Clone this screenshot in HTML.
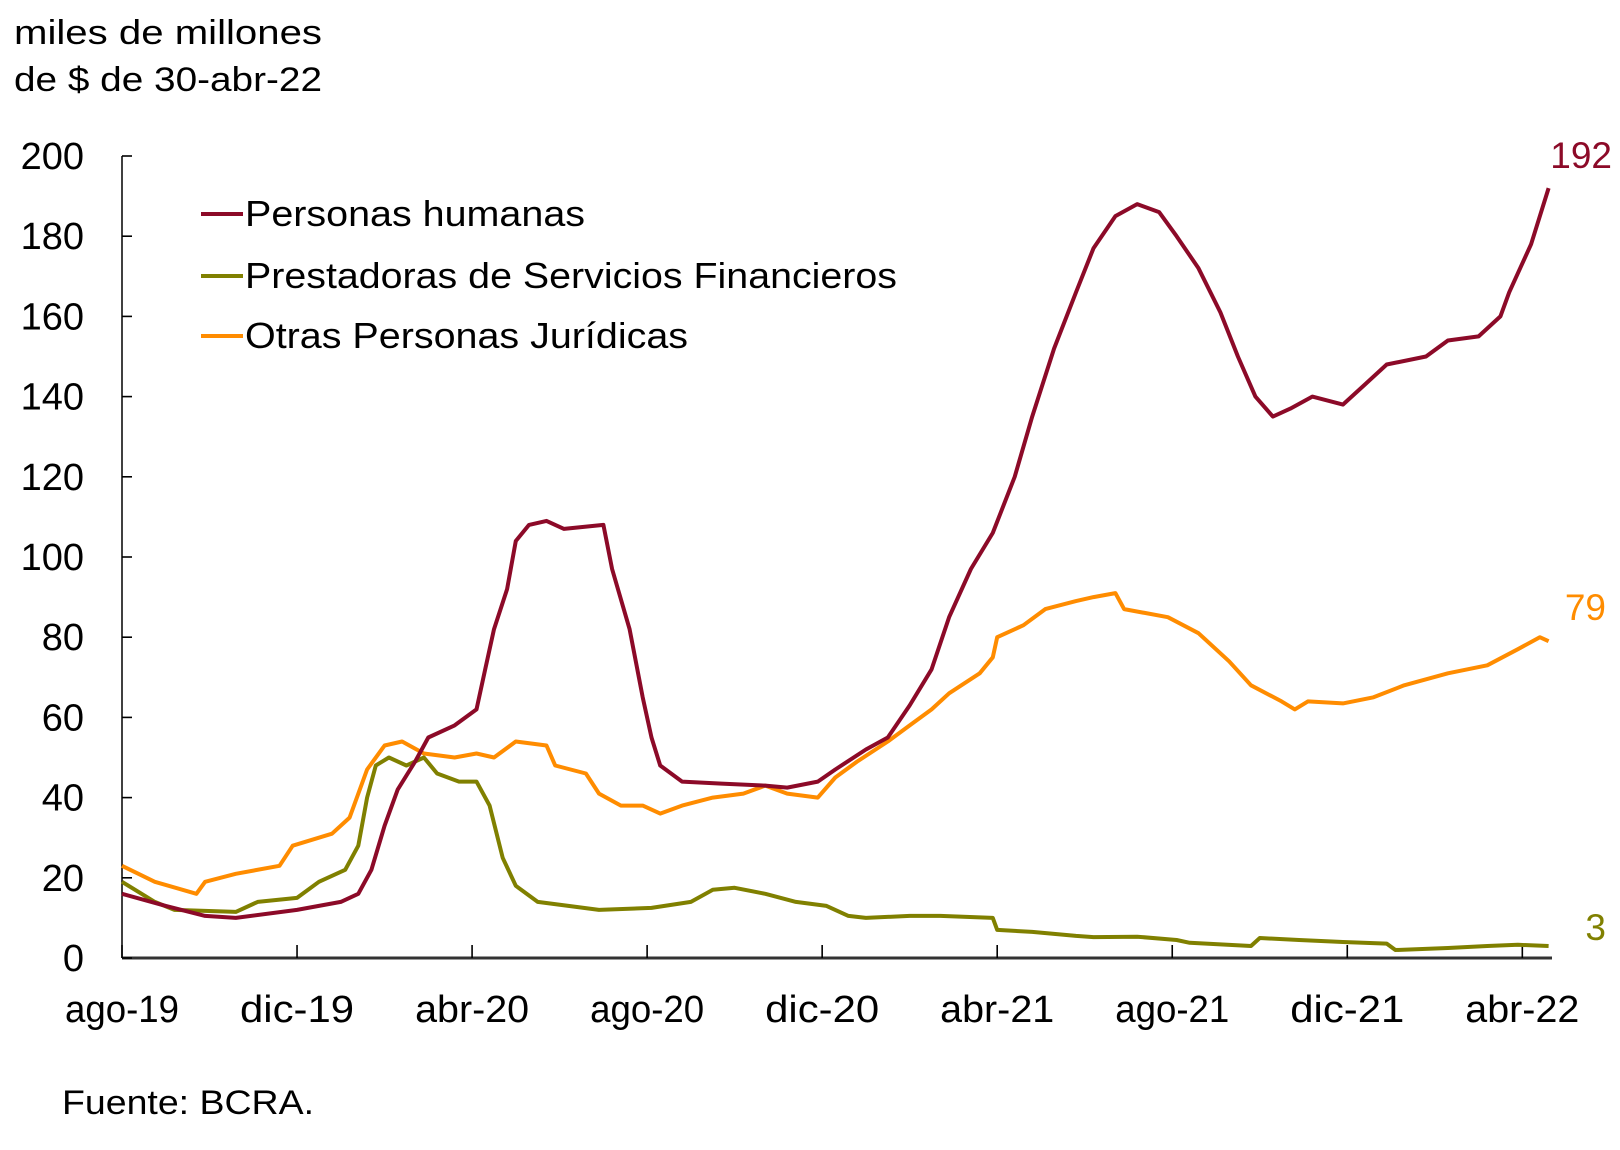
<!DOCTYPE html>
<html><head><meta charset="utf-8"><style>
html,body{margin:0;padding:0;background:#fff;}
svg{display:block;font-family:"Liberation Sans",sans-serif;}
</style></head><body>
<svg id="chart" width="1620" height="1150" viewBox="0 0 1620 1150" xmlns="http://www.w3.org/2000/svg">
<text x="14" y="44" font-size="34" textLength="308" lengthAdjust="spacingAndGlyphs">miles de millones</text>
<text x="14" y="91" font-size="34" textLength="308" lengthAdjust="spacingAndGlyphs">de $ de 30-abr-22</text>
<g id="axes"></g>
<g id="series"></g>
<g>
<line x1="201" y1="214" x2="243" y2="214" stroke="#8c0a28" stroke-width="4"/>
<text x="245" y="226" font-size="36" textLength="340" lengthAdjust="spacingAndGlyphs">Personas humanas</text>
<line x1="201" y1="276" x2="243" y2="276" stroke="#808000" stroke-width="4"/>
<text x="245" y="288" font-size="36" textLength="652" lengthAdjust="spacingAndGlyphs">Prestadoras de Servicios Financieros</text>
<line x1="201" y1="336" x2="243" y2="336" stroke="#ff8c00" stroke-width="4"/>
<text x="245" y="348" font-size="36" textLength="443" lengthAdjust="spacingAndGlyphs">Otras Personas Jurídicas</text>
</g>
<text x="1612" y="168" font-size="37" text-anchor="end" fill="#8c0a28">192</text>
<text x="1606" y="620" font-size="37" text-anchor="end" fill="#ff8c00">79</text>
<text x="1606" y="940" font-size="37" text-anchor="end" fill="#808000">3</text>
<text x="62" y="1114" font-size="34" textLength="252" lengthAdjust="spacingAndGlyphs">Fuente: BCRA.</text>
</svg>
<script>
const yTicks=[0,20,40,60,80,100,120,140,160,180,200];
const xTickMonths=[0,4,8,12,16,20,24,28,32];
const xTickLabels=["ago-19","dic-19","abr-20","ago-20","dic-20","abr-21","ago-21","dic-21","abr-22"];
const phM=[0,1,1.9,2.6,4,5,5.4,5.7,6,6.3,6.7,7,7.6,8.1,8.3,8.5,8.8,9,9.3,9.7,10.1,11,11.2,11.6,11.9,12.1,12.3,12.8,13.7,14.7,15.2,15.9,16.3,17,17.5,18,18.5,18.9,19.4,19.9,20.4,20.8,21.3,21.8,22.2,22.7,23.2,23.7,24.1,24.6,25.1,25.5,25.9,26.3,26.7,27.2,27.9,28.4,28.9,29.8,30.3,31,31.5,31.7,32.2,32.6];
const phV=[16,13,10.5,10,12,14,16,22,33,42,49,55,58,62,72,82,92,104,108,109,107,108,97,82,65,55,48,44,43.5,43,42.5,44,47,52,55,63,72,85,97,106,120,135,152,166,177,185,188,186,180,172,161,150,140,135,137,140,138,143,148,150,154,155,160,166,178,192];
const psM=[0,0.75,1.2,2.6,3.1,4,4.5,5.1,5.4,5.6,5.8,6.1,6.5,6.9,7.2,7.7,8.1,8.4,8.7,9,9.5,10.2,10.9,12.1,13,13.5,14,14.7,15.4,16.1,16.6,17,18,18.7,19.9,20,20.8,21.8,22.2,23.2,24.1,24.4,25.8,26,26.9,27.9,28.9,29.1,30.3,31.2,31.9,32.6];
const psV=[19,14,12,11.5,14,15,19,22,28,40,48,50,48,50,46,44,44,38,25,18,14,13,12,12.5,14,17,17.5,16,14,13,10.5,10,10.5,10.5,10,7,6.5,5.5,5.2,5.3,4.5,3.8,3,5,4.5,4,3.6,2,2.5,3,3.3,3];
const opM=[0,0.75,1.7,1.9,2.6,3.6,3.9,4.8,5.2,5.6,6,6.4,6.9,7.6,8.1,8.5,9,9.7,9.9,10.6,10.9,11.4,11.9,12.3,12.8,13.5,14.2,14.7,15.2,15.9,16.3,16.8,17.5,18,18.5,18.9,19.6,19.9,20,20.6,21.1,21.8,22.2,22.7,22.9,23.9,24.6,25.3,25.8,26.5,26.8,27.1,27.9,28.6,29.3,30.3,31.2,31.9,32.4,32.6];
const opV=[23,19,16,19,21,23,28,31,35,47,53,54,51,50,51,50,54,53,48,46,41,38,38,36,38,40,41,43,41,40,45,49,54,58,62,66,71,75,80,83,87,89,90,91,87,85,81,74,68,64,62,64,63.5,65,68,71,73,77,80,79];
const X0=122,PX=43.76,Y0=958,Y1=156;
const xS=m=>X0+m*PX, yS=v=>Y0-(v/200)*(Y0-Y1);
const NS="http://www.w3.org/2000/svg";
const axes=document.getElementById('axes'), ser=document.getElementById('series');
function mk(t,p,a){const e=document.createElementNS(NS,t);for(const k in a)e.setAttribute(k,a[k]);p.appendChild(e);return e;}
let yl=mk('line',axes,{x1:X0,y1:Y1,x2:X0,y2:Y0,stroke:'#000','stroke-width':1.5});


let xl=mk('line',axes,{x1:X0,y1:Y0,x2:1552,y2:Y0,stroke:'#333','stroke-width':3});


yTicks.forEach(v=>{
 let t=mk('line',axes,{x1:X0,y1:yS(v),x2:X0+10,y2:yS(v),stroke:'#000','stroke-width':1.6});
 
 
 let l=mk('text',axes,{x:84,y:yS(v)+13,'font-size':38,'text-anchor':'end'});
 l.textContent=v;
 
 
});
xTickMonths.forEach((m,i)=>{
 let t=mk('line',axes,{x1:xS(m),y1:Y0,x2:xS(m),y2:Y0-13,stroke:'#000','stroke-width':1.6});
 
 
 let l=mk('text',axes,{x:xS(m),y:1022,'font-size':38,'text-anchor':'middle',textLength:114,lengthAdjust:'spacingAndGlyphs'});
 l.textContent=xTickLabels[i];
 
 
});
function line(ms,vs,c,name){
 const d=ms.map((m,i)=>(i?'L':'M')+xS(m).toFixed(1)+','+yS(vs[i]).toFixed(1)).join('');
 let p=mk('path',ser,{d:d,fill:'none',stroke:c,'stroke-width':4,'stroke-linejoin':'round'});
 
 
}
line(opM,opV,'#ff8c00','series-otras-personas-juridicas');
line(psM,psV,'#808000','series-prestadoras');
line(phM,phV,'#8c0a28','series-personas-humanas');
</script>
</body></html>
